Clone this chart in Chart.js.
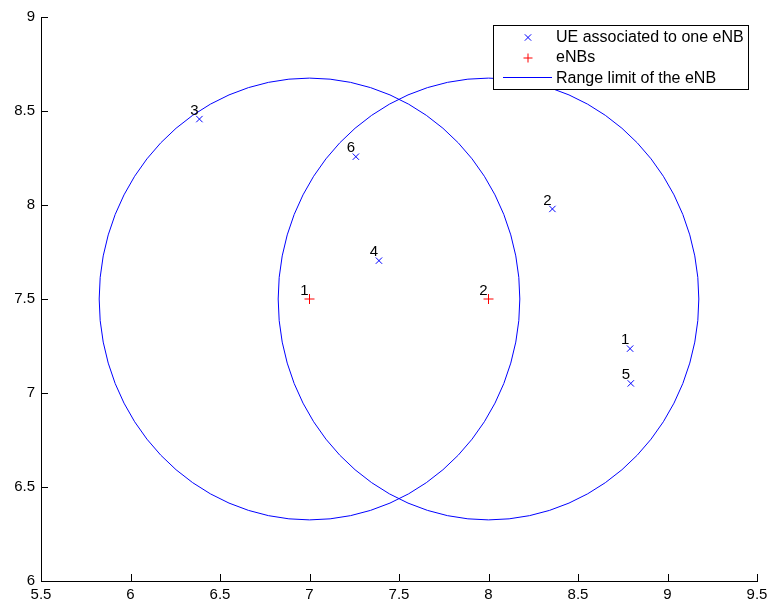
<!DOCTYPE html>
<html>
<head>
<meta charset="utf-8">
<script src="https://cdn.jsdelivr.net/npm/chart.js@4/dist/chart.umd.min.js"></script>
<style>
  body { margin: 0; background: #fff; }
  canvas { display: block; }
</style>
</head>
<body>
<canvas id="chart" width="768" height="606"></canvas>
<script>
// UE positions (id, x, y)
const ueIds = ["1", "2", "3", "4", "5", "6"];
const ueX = [8.791, 8.357, 6.385, 7.388, 8.795, 7.259];
const ueY = [7.236, 7.979, 8.457, 7.704, 7.051, 8.257];

// eNB positions and range
const enbIds = ["1", "2"];
const enbX = [7, 8];
const enbY = [7.5, 7.5];
const rangeRadius = 1.175;

const xTicks = [5.5, 6, 6.5, 7, 7.5, 8, 8.5, 9, 9.5];
const yTicks = [6, 6.5, 7, 7.5, 8, 8.5, 9];

const legendLabels = ["UE associated to one eNB", "eNBs", "Range limit of the eNB"];

const FONT = "15px 'Liberation Sans', Arial, sans-serif";
const LEGEND_FONT = "16px 'Liberation Sans', Arial, sans-serif";

const uePoints = ueX.map((x, i) => ({ x: x, y: ueY[i] }));
const enbPoints = enbX.map((x, i) => ({ x: x, y: enbY[i] }));

// circles, inward ticks, point labels and legend
const extras = {
  id: "extras",
  beforeDatasetsDraw(chart) {
    const c = chart.ctx;
    const xs = chart.scales.x, ys = chart.scales.y;
    const area = chart.chartArea;
    c.save();
    c.strokeStyle = "#000";
    c.lineWidth = 1;
    c.beginPath();
    xTicks.forEach(t => {
      const px = Math.round(xs.getPixelForValue(t)) + 0.5;
      c.moveTo(px, area.bottom);
      c.lineTo(px, area.bottom - 7);
    });
    yTicks.forEach(t => {
      const py = Math.round(ys.getPixelForValue(t)) + 0.5;
      c.moveTo(area.left, py);
      c.lineTo(area.left + 7, py);
    });
    c.stroke();

    // range circles
    c.strokeStyle = "#0000ff";
    enbX.forEach((x, i) => {
      const cx = xs.getPixelForValue(x);
      const cy = ys.getPixelForValue(enbY[i]);
      const rx = xs.getPixelForValue(x + rangeRadius) - cx;
      const ry = cy - ys.getPixelForValue(enbY[i] + rangeRadius);
      c.beginPath();
      c.ellipse(cx, cy, rx, ry, 0, 0, Math.PI * 2);
      c.stroke();
    });
    c.restore();
  },
  afterDatasetsDraw(chart) {
    const c = chart.ctx;
    const xs = chart.scales.x, ys = chart.scales.y;
    c.save();
    c.font = FONT;
    c.fillStyle = "#000";
    c.textAlign = "center";
    c.textBaseline = "middle";
    const label = (id, x, y) => {
      c.fillText(id, xs.getPixelForValue(x) - 5, ys.getPixelForValue(y) - 8.5);
    };
    ueIds.forEach((id, i) => label(id, ueX[i], ueY[i]));
    enbIds.forEach((id, i) => label(id, enbX[i], enbY[i]));

    // legend box
    const bx = 493.5, by = 25.5, bw = 255, bh = 64;
    c.fillStyle = "#fff";
    c.fillRect(bx, by, bw, bh);
    c.strokeStyle = "#000";
    c.lineWidth = 1;
    c.strokeRect(bx, by, bw, bh);

    const rows = [37.5, 58, 78.5];
    c.font = LEGEND_FONT;
    c.textAlign = "left";
    c.fillStyle = "#000";
    legendLabels.forEach((t, i) => c.fillText(t, 556, rows[i]));

    c.lineWidth = 1;
    c.strokeStyle = "#0000ff";
    Chart.helpers.drawPoint(c, { pointStyle: "crossRot", radius: 4.5, borderWidth: 1 }, 528, rows[0]);
    c.strokeStyle = "#ff0000";
    Chart.helpers.drawPoint(c, { pointStyle: "cross", radius: 4.5, borderWidth: 1 }, 528, rows[1]);
    c.strokeStyle = "#0000ff";
    c.beginPath();
    c.moveTo(503, 77.5);
    c.lineTo(552, 77.5);
    c.stroke();
    c.restore();
  }
};

const ctx = document.getElementById("chart").getContext("2d");
const chart = new Chart(ctx, {
  type: "scatter",
  data: {
    datasets: [{
      label: legendLabels[0],
      data: uePoints,
      pointStyle: "crossRot",
      pointRadius: 4.5,
      pointBorderWidth: 1,
      borderColor: "#0000ff",
      backgroundColor: "#0000ff"
    }, {
      label: legendLabels[1],
      data: enbPoints,
      pointStyle: "cross",
      pointRadius: 5,
      pointBorderWidth: 1,
      borderColor: "#ff0000",
      backgroundColor: "#ff0000"
    }]
  },
  options: {
    responsive: false,
    animation: false,
    layout: { padding: { left: 0, top: 17, right: 11, bottom: 0 } },
    plugins: {
      legend: { display: false },
      tooltip: { enabled: false }
    },
    scales: {
      x: {
        type: "linear",
        min: 5.5,
        max: 9.5,
        afterBuildTicks: s => { s.ticks = xTicks.map(v => ({ value: v })); },
        afterFit: s => { s.height = 25; s.paddingLeft = 0; s.paddingRight = 0; },
        grid: { display: false, drawTicks: false },
        border: { display: true, color: "#000", width: 1 },
        ticks: {
          padding: 5,
          color: "#000",
          font: { family: "'Liberation Sans', Arial, sans-serif", size: 15 },
          maxRotation: 0,
          callback: v => String(v)
        }
      },
      y: {
        type: "linear",
        min: 6,
        max: 9,
        afterBuildTicks: s => { s.ticks = yTicks.map(v => ({ value: v })); },
        afterFit: s => { s.width = 41; s.paddingTop = 0; s.paddingBottom = 0; },
        grid: { display: false, drawTicks: false },
        border: { display: true, color: "#000", width: 1 },
        ticks: {
          padding: 6,
          color: "#000",
          font: { family: "'Liberation Sans', Arial, sans-serif", size: 15 },
          callback: v => String(v)
        }
      }
    }
  },
  plugins: [extras]
});
</script>
</body>
</html>
